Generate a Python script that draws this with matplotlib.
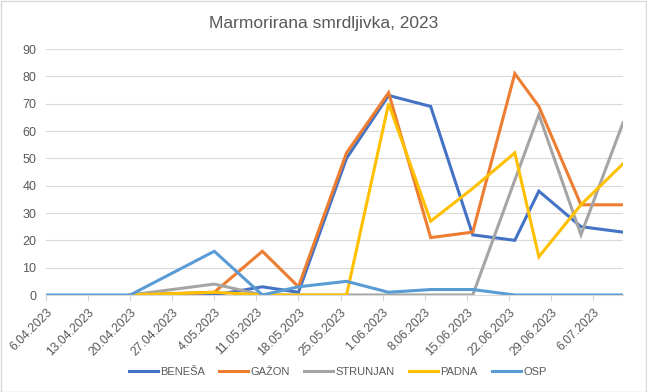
import matplotlib
matplotlib.use('Agg')
import matplotlib.pyplot as plt
import numpy as np
from datetime import datetime, timedelta

plt.rcParams['font.family'] = ['Liberation Sans', 'DejaVu Sans']

# sampling dates
dates = ['2023-04-06', '2023-04-13', '2023-04-20', '2023-05-04', '2023-05-12',
         '2023-05-18', '2023-05-26', '2023-06-02', '2023-06-09', '2023-06-16',
         '2023-06-23', '2023-06-27', '2023-07-04', '2023-07-11']
nan = np.nan
benesa   = [nan, nan, 0, 0, 3, 1, 50, 73, 69, 22, 20, 38, 25, 23]
gazon    = [nan, nan, 0, 1, 16, 3, 52, 74, 21, 23, 81, 69, 33, 33]
strunjan = [nan, nan, 0, 4, 0, 0, 0, 0, 0, 0, 42, 66, 22, 63]
padna    = [nan, nan, 0, 1, 0, 0, 0, 70, 27, 39, 52, 14, 33, 48]
osp      = [0, 0, 0, 16, 0, 3, 5, 1, 2, 2, 0, 0, 0, 0]

series = [('BENEŠA', benesa, '#4472C4'),
          ('GAŽON', gazon, '#ED7D31'),
          ('STRUNJAN', strunjan, '#A5A5A5'),
          ('PADNA', padna, '#FFC000'),
          ('OSP', osp, '#5B9BD5')]

x = [datetime.strptime(d, '%Y-%m-%d') for d in dates]

fig = plt.figure(figsize=(6.47, 3.92), dpi=100)
ax = fig.add_axes([46/647, 1-295/392, 577/647, 246/392])

for name, vals, col in series:
    v = np.array(vals, dtype=float)
    m = ~np.isnan(v)
    ax.plot(np.array(x)[m], v[m], color=col, lw=2.2, label=name, solid_joinstyle='miter')

ax.set_ylim(0, 90)
ax.set_yticks(range(0, 91, 10))
ax.set_xlim(x[0], x[-1])

start = datetime(2023, 4, 6)
wk = [start + timedelta(days=7*i) for i in range(14)]
ax.set_xticks(wk)
ax.set_xticklabels([f'{d.day}.{d.month:02d}.{d.year}' for d in wk],
                   rotation=45, ha='right', rotation_mode='anchor')

ax.grid(axis='y', color='#d9d9d9', lw=0.8)
ax.set_axisbelow(True)
for s in ['top', 'right', 'left']:
    ax.spines[s].set_visible(False)
ax.spines['bottom'].set_color('#d9d9d9')
ax.spines['bottom'].set_linewidth(0.8)
ax.tick_params(axis='y', length=0, labelsize=9, colors='#595959', pad=7)
ax.tick_params(axis='x', length=4, width=0.8, color='#d9d9d9', labelsize=8.7,
               labelcolor='#595959', pad=4)

fig.text(0.5, 0.94, 'Marmorirana smrdljivka, 2023', ha='center', va='center',
         fontsize=12.5, color='#595959')

fig.legend(loc='center', bbox_to_anchor=(0.522, 1-372/392), ncol=5, frameon=False,
           fontsize=8, labelcolor='#595959', handlelength=2.6, handletextpad=0.2,
           columnspacing=1.3)

fig.patches.append(plt.Rectangle((0.001, 0.001), 0.997, 0.997, transform=fig.transFigure,
                                 fill=False, edgecolor='#d9d9d9', lw=1))

fig.savefig('out.png', dpi=100)
